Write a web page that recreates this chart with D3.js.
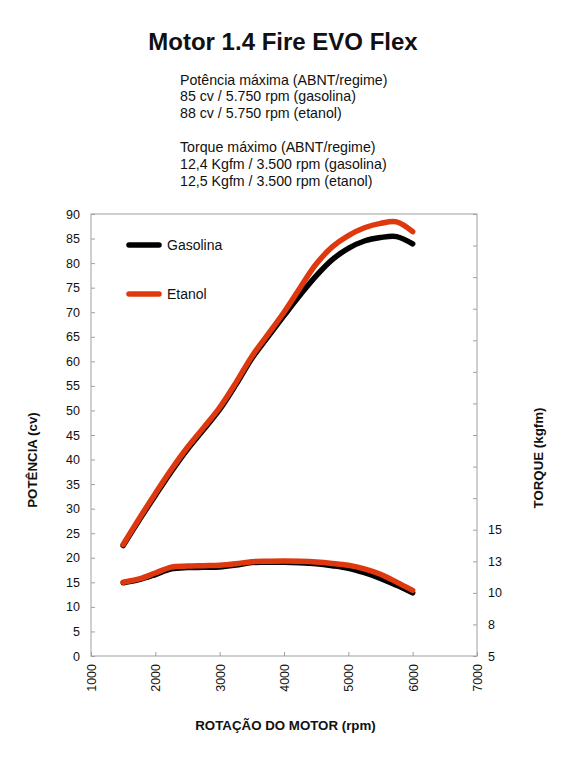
<!DOCTYPE html>
<html>
<head>
<meta charset="utf-8">
<script src="https://cdn.jsdelivr.net/npm/d3@7"></script>
<style>
  body { margin: 0; background: #fff; }
  svg text { font-family: Arial, "Liberation Sans", sans-serif; fill: #111; }
</style>
</head>
<body>
<div id="chart"></div>
<script>
// rpm samples
const rpm = [1500, 1750, 2000, 2250, 2500, 2750, 3000, 3250, 3500, 3750, 4000, 4250, 4500, 4750, 5000, 5250, 5500, 5750, 6000];
// power (cv)
const potGasolina = [22.5, 27.7, 32.7, 37.6, 42.1, 46.1, 50.2, 55.2, 60.6, 65.0, 69.3, 73.5, 77.4, 80.7, 83.0, 84.5, 85.2, 85.4, 83.9];
const potEtanol = [22.7, 28.0, 33.1, 38.0, 42.5, 46.5, 50.6, 55.6, 61.0, 65.5, 70.0, 75.0, 79.8, 83.3, 85.6, 87.2, 88.1, 88.4, 86.4];
// torque (kgfm)
const torGasolina = [10.8, 11.05, 11.45, 11.9, 12.0, 12.02, 12.05, 12.2, 12.4, 12.42, 12.42, 12.38, 12.3, 12.15, 11.95, 11.6, 11.15, 10.6, 10.0];
const torEtanol = [10.84, 11.1, 11.57, 12.04, 12.12, 12.15, 12.18, 12.3, 12.47, 12.5, 12.52, 12.5, 12.44, 12.33, 12.18, 11.9, 11.47, 10.85, 10.2];

const xTicks = [1000, 2000, 3000, 4000, 5000, 6000, 7000];
const potTicks = d3.range(0, 91, 5);
const torTicks = d3.range(5, 40.01, 2.5);
const torLabelMax = 15;

const infoLines = [
  'Potência máxima (ABNT/regime)',
  '85 cv / 5.750 rpm (gasolina)',
  '88 cv / 5.750 rpm (etanol)',
  '',
  'Torque máximo (ABNT/regime)',
  '12,4 Kgfm / 3.500 rpm (gasolina)',
  '12,5 Kgfm / 3.500 rpm (etanol)'
];

const width = 568, height = 768;
const plot = { left: 91, right: 477, top: 214, bottom: 656 };
const red = '#e0380e';
const axisGray = '#a0a0a0';

const svg = d3.select('#chart').append('svg')
  .attr('width', width)
  .attr('height', height);

const x = d3.scaleLinear().domain([1000, 7000]).range([plot.left, plot.right]);
const yPot = d3.scaleLinear().domain([0, 90]).range([plot.bottom, plot.top]);
const yTor = d3.scaleLinear().domain([5, 40]).range([plot.bottom, plot.top]);

// title + info block
svg.append('text')
  .attr('x', 283).attr('y', 50)
  .attr('text-anchor', 'middle')
  .style('font-size', '24px').style('font-weight', 'bold')
  .text('Motor 1.4 Fire EVO Flex');

svg.append('g').selectAll('text')
  .data(infoLines)
  .enter().append('text')
  .attr('x', 180)
  .attr('y', (d, i) => 84.5 + i * 16.9)
  .style('font-size', '14.2px')
  .text(d => d);

// frame
svg.append('rect')
  .attr('x', plot.left).attr('y', plot.top)
  .attr('width', plot.right - plot.left)
  .attr('height', plot.bottom - plot.top)
  .attr('fill', 'none')
  .attr('stroke', axisGray)
  .attr('stroke-width', 1);

function styleAxis(g) {
  g.select('.domain').remove();
  g.selectAll('.tick line').attr('stroke', axisGray);
  g.selectAll('.tick text').style('font-size', '12.5px').attr('fill', '#111');
}

svg.append('g')
  .attr('transform', 'translate(' + plot.left + ',0)')
  .call(d3.axisLeft(yPot).tickValues(potTicks).tickSize(-4).tickPadding(11))
  .call(styleAxis);

svg.append('g')
  .attr('transform', 'translate(' + plot.right + ',0)')
  .call(d3.axisRight(yTor).tickValues(torTicks).tickSize(-4).tickPadding(11)
    .tickFormat(d => d <= torLabelMax ? Math.round(d) : ''))
  .call(styleAxis);

const xAxis = svg.append('g')
  .attr('transform', 'translate(0,' + plot.bottom + ')')
  .call(d3.axisBottom(x).tickValues(xTicks).tickSize(-4).tickFormat(d3.format('d')))
  .call(styleAxis);

xAxis.selectAll('.tick text')
  .attr('transform', 'rotate(-90)')
  .attr('x', -8).attr('y', 0).attr('dy', '0.35em')
  .attr('text-anchor', 'end');

// axis titles
svg.append('text')
  .attr('transform', 'translate(36.5,460) rotate(-90)')
  .attr('text-anchor', 'middle')
  .style('font-size', '13.3px').style('font-weight', 'bold')
  .text('POTÊNCIA (cv)');

svg.append('text')
  .attr('transform', 'translate(542.5,458) rotate(-90)')
  .attr('text-anchor', 'middle')
  .style('font-size', '13.3px').style('font-weight', 'bold')
  .text('TORQUE (kgfm)');

svg.append('text')
  .attr('x', 285.5).attr('y', 730)
  .attr('text-anchor', 'middle')
  .style('font-size', '13.3px').style('font-weight', 'bold')
  .text('ROTAÇÃO DO MOTOR (rpm)');

// curves
function drawLine(values, yScale, color) {
  const line = d3.line()
    .x((d, i) => x(rpm[i]))
    .y(d => yScale(d))
    .curve(d3.curveCatmullRom.alpha(0.5));
  svg.append('path')
    .datum(values)
    .attr('d', line)
    .attr('fill', 'none')
    .attr('stroke', color)
    .attr('stroke-width', 5.5)
    .attr('stroke-linecap', 'round')
    .attr('stroke-linejoin', 'round');
}

drawLine(potGasolina, yPot, '#000');
drawLine(torGasolina, yTor, '#000');
drawLine(potEtanol, yPot, red);
drawLine(torEtanol, yTor, red);

// legend
const legend = [
  { name: 'Gasolina', color: '#000', y: 245 },
  { name: 'Etanol', color: red, y: 294 }
];
const lg = svg.append('g').selectAll('g').data(legend).enter().append('g');
lg.append('line')
  .attr('x1', 129).attr('x2', 159)
  .attr('y1', d => d.y).attr('y2', d => d.y)
  .attr('stroke', d => d.color)
  .attr('stroke-width', 5.5)
  .attr('stroke-linecap', 'round');
lg.append('text')
  .attr('x', 167).attr('y', d => d.y)
  .attr('dy', '0.36em')
  .style('font-size', '14px')
  .text(d => d.name);
</script>
</body>
</html>
